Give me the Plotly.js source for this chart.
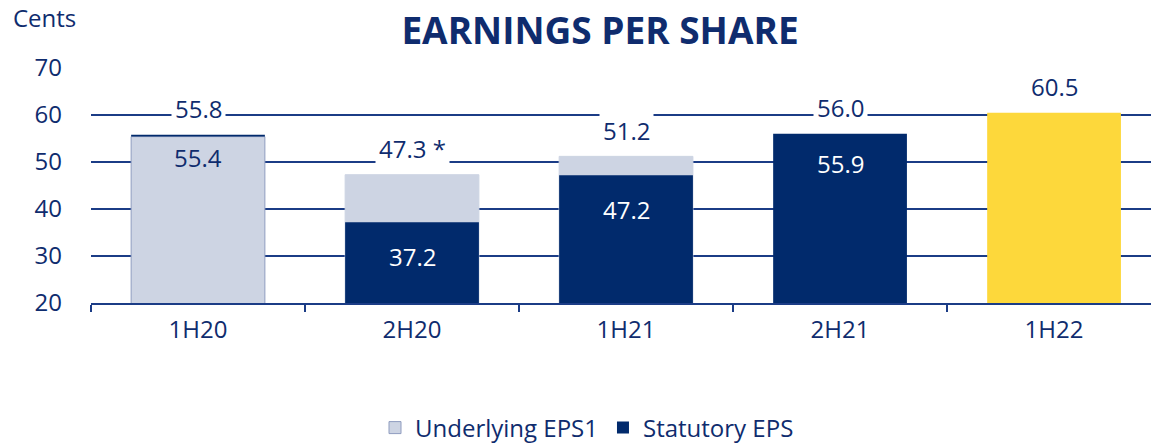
<!DOCTYPE html>
<html>
<head>
<meta charset="utf-8">
<script src="https://cdn.plot.ly/plotly-3.0.1.min.js"></script>
<style>html,body{margin:0;padding:0;background:#fff;}#chart{width:1151px;height:445px;}</style>
</head>
<body>
<div id="chart"></div>
<script>
const categories = ['1H20', '2H20', '1H21', '2H21', '1H22'];
const underlying = [55.8, 47.3, 51.2, 56.0, 60.5];
const statutory = [55.4, 37.2, 47.2, 55.9, null];
const topLabels = ['55.8', '47.3 *', '51.2', '56.0', '60.5'];
const innerLabels = ['55.4', '37.2', '47.2', '55.9', null];

const NAVY = '#0f2c6e';
const DARK = '#012a6c';
const LIGHT = '#cdd4e3';
const YELLOW = '#fdd83b';
const FONT = '"Open Sans", Lato, sans-serif';

// Light segments
const lightY = [statutory[0], underlying[1], underlying[2], null, null];
// Dark segments
const darkBase = [statutory[0], 0, 0, 0, null];
const darkY = [underlying[0] - statutory[0], statutory[1], statutory[2], underlying[3], null];
const yellowY = [null, null, null, null, underlying[4]];

const traces = [
  {type: 'bar', name: 'Underlying EPS1', x: categories, y: lightY, base: 0,
   marker: {color: LIGHT, line: {color: ['#8f9cbf', LIGHT, LIGHT, LIGHT, LIGHT], width: 1}},
   width: 0.625, hoverinfo: 'skip'},
  {type: 'bar', name: 'Statutory EPS', x: categories, y: darkY, base: darkBase,
   marker: {color: DARK, line: {width: 0}}, width: 0.625, hoverinfo: 'skip'},
  {type: 'bar', name: 'yellow', showlegend: false, x: categories, y: yellowY, base: 0,
   marker: {color: YELLOW, line: {width: 0}}, width: 0.625, hoverinfo: 'skip'}
];

const annotations = [];
categories.forEach((c, i) => {
  annotations.push({x: c, y: underlying[i], xref: 'x', yref: 'y', text: topLabels[i],
    showarrow: false, yshift: 26, yanchor: 'middle', bgcolor: '#ffffff', borderpad: 3,
    font: {family: FONT, size: 24, color: NAVY}});
  if (innerLabels[i] !== null) {
    const shift = i === 0 ? -23 : (i === 3 ? -29 : -34);
    annotations.push({x: c, y: i === 0 ? underlying[i] : statutory[i], xref: 'x', yref: 'y', text: innerLabels[i],
      showarrow: false, yshift: shift, yanchor: 'middle',
      font: {family: FONT, size: 24, color: i === 0 ? NAVY : '#ffffff'}});
  }
});
annotations.push({text: 'Cents', xref: 'paper', yref: 'paper', x: 0, xshift: -80, y: 1 + 50 / 235,
  xanchor: 'left', yanchor: 'middle', showarrow: false, font: {family: FONT, size: 24, color: NAVY}});

const layout = {
  width: 1151, height: 445,
  margin: {l: 91, r: 0, t: 68, b: 142},
  paper_bgcolor: '#ffffff', plot_bgcolor: '#ffffff',
  barmode: 'overlay',
  showlegend: true,
  title: {text: '<b>EARNINGS PER SHARE</b>', x: 600 / 1151, xanchor: 'center', xref: 'container',
    y: 1 - 31 / 445, yanchor: 'middle', yref: 'container',
    font: {family: FONT, size: 37, color: NAVY, weight: 800}},
  xaxis: {type: 'category', range: [-0.5, 4.453], showgrid: false, showline: true, linecolor: '#1b3c86', linewidth: 2,
    ticks: 'outside', tickson: 'boundaries', ticklen: 7, tickcolor: '#1b3c86', tickwidth: 2,
    tickfont: {family: FONT, size: 24, color: NAVY}, ticklabelstandoff: 4, fixedrange: true},
  yaxis: {range: [20, 70], tickvals: [20, 30, 40, 50, 60, 70], showgrid: true, gridcolor: '#1b3c86', gridwidth: 2,
    zeroline: false, showline: false, ticks: '', ticklabelstandoff: 28,
    tickfont: {family: FONT, size: 24, color: NAVY}, fixedrange: true},
  legend: {orientation: 'h', x: 0.51, xref: 'container', xanchor: 'center', y: 1 - 428 / 445, yref: 'container', yanchor: 'middle',
    font: {family: FONT, size: 24, color: NAVY}, itemwidth: 30, tracegroupgap: 0, traceorder: 'normal'},
  annotations: annotations
};

Plotly.newPlot('chart', traces, layout, {displayModeBar: false, staticPlot: true});
</script>
</body>
</html>
